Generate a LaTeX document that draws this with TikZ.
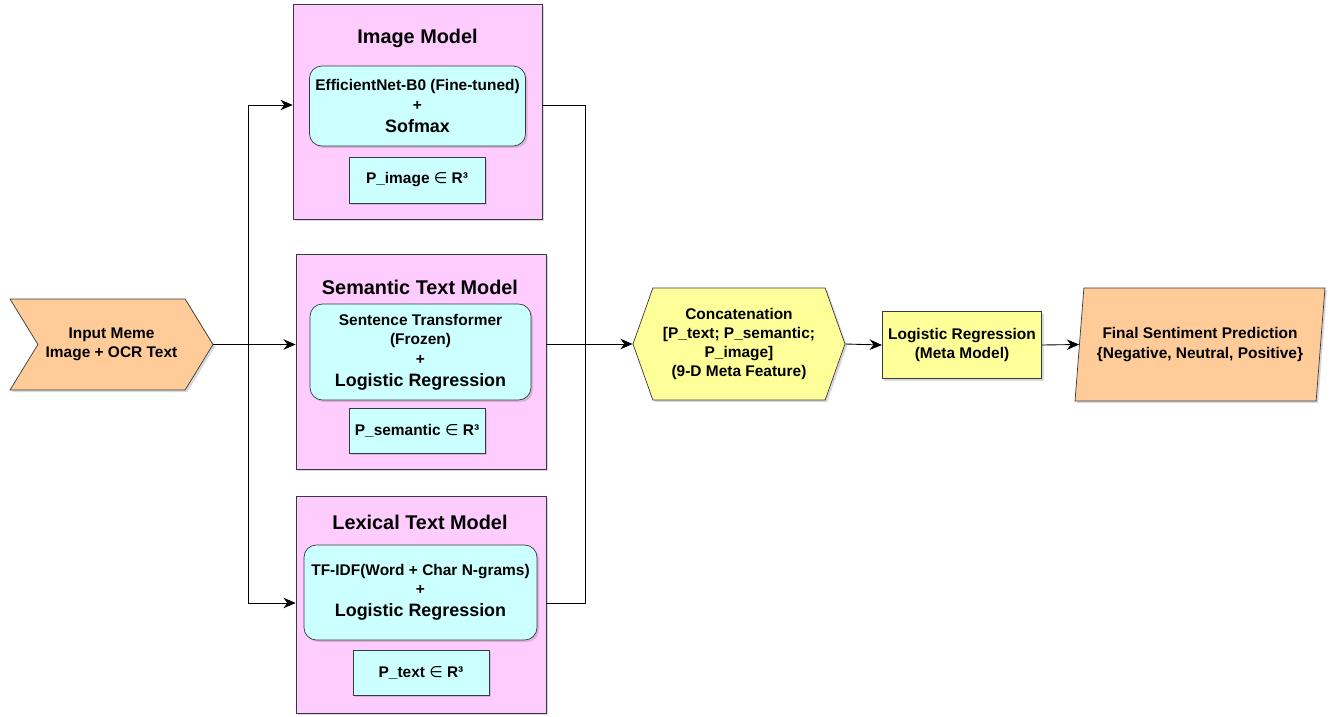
\documentclass[tikz,border=0pt]{standalone}
\usepackage{fontspec}
\setmainfont{Liberation Sans}
\newfontfamily\symfont{DejaVu Sans}
\usetikzlibrary{arrows, arrows.meta, positioning, shapes.geometric, shapes.symbols, shadows}

\definecolor{modelpink}{HTML}{FFCCFF}
\definecolor{netcyan}{HTML}{CCFFFF}
\definecolor{ioorange}{HTML}{FFCC99}
\definecolor{metayellow}{HTML}{FFFF99}
\definecolor{edgegray}{HTML}{36393D}

\newcommand{\smallsz}{\fontsize{8.8}{11}\selectfont}
\newcommand{\bigsz}{\fontsize{10.2}{12.5}\selectfont}
\newcommand{\titlesz}{\fontsize{11.3}{13.5}\selectfont}
\newcommand{\inRthree}{{\symfont\mdseries ∈} R³}

\begin{document}
\begin{tikzpicture}[x=0.02cm, y=-0.02cm]
	\tikzstyle{Shadowed} = [drop shadow={opacity=0.3, shadow xshift=1.2pt, shadow yshift=-1.2pt}]
	\tikzstyle{ModelBox} = [rectangle, draw=edgegray, fill=modelpink, Shadowed]
	\tikzstyle{NetBox} = [rectangle, rounded corners=7pt, draw=edgegray, fill=netcyan, align=center, font=\bfseries\smallsz, Shadowed]
	\tikzstyle{ProbBox} = [rectangle, draw=edgegray, fill=netcyan, font=\bfseries\smallsz, Shadowed]
	\tikzstyle{Title} = [font=\bfseries\titlesz]
	\tikzstyle{Flow} = [draw=edgegray, align=center, font=\bfseries\smallsz, Shadowed]
	\tikzstyle{arrow} = [-{Stealth[length=7pt, width=6pt]}, line width=0.5pt]
	\tikzstyle{line} = [line width=0.5pt]

	\useasboundingbox (0,0) rectangle (1340,717);

	% input and the three base models
	\node (input) [Flow, signal, signal to=east, signal from=west, signal pointer angle=117, fill=ioorange, minimum width=4.06cm, minimum height=1.82cm] at (111.5,344.5) {Input Meme\\Image + OCR Text};

	\node (imgModel) [ModelBox, minimum width=4.98cm, minimum height=4.3cm] at (417.5,111.5) {};
	\node (imgTitle) [Title] at (417.5,38) {Image Model};
	\node (imgNet) [NetBox, minimum width=4.3cm, minimum height=1.6cm] at (417.5,106) {EfficientNet-B0 (Fine-tuned)\\+\\[1.5pt]{\bigsz Sofmax}};
	\node (imgProb) [ProbBox, minimum width=2.72cm, minimum height=0.92cm] at (417,180) {P\_image \inRthree};

	\node (semModel) [ModelBox, minimum width=5cm, minimum height=4.3cm] at (421,361.5) {};
	\node (semTitle) [Title] at (420,287) {Semantic Text Model};
	\node (semNet) [NetBox, minimum width=4.42cm, minimum height=1.92cm] at (420.5,352) {Sentence Transformer\\(Frozen)\\+\\[1.5pt]{\bigsz Logistic Regression}};
	\node (semProb) [ProbBox, minimum width=2.72cm, minimum height=0.9cm] at (417,430.5) {P\_semantic \inRthree};

	\node (lexModel) [ModelBox, minimum width=5cm, minimum height=4.34cm] at (421,604.5) {};
	\node (lexTitle) [Title] at (420,522) {Lexical Text Model};
	\node (lexNet) [NetBox, minimum width=4.66cm, minimum height=1.9cm] at (420.5,592.5) {TF-IDF(Word + Char N-grams)\\+\\[1.5pt]{\bigsz Logistic Regression}};
	\node (lexProb) [ProbBox, minimum width=2.72cm, minimum height=0.9cm] at (421,672.5) {P\_text \inRthree};

	% meta stage
	\node (concat) [Flow, signal, signal to=east and west, signal pointer angle=141, fill=metayellow, minimum width=4.24cm, minimum height=2.24cm] at (739,344) {Concatenation\\{[}P\_text; P\_semantic;\\P\_image{]}\\(9-D Meta Feature)};
	\node (meta) [Flow, rectangle, fill=metayellow, minimum width=3.18cm, minimum height=1.34cm] at (962,345) {Logistic Regression\\(Meta Model)};
	\node (final) [Flow, trapezium, trapezium left angle=79, trapezium right angle=101, trapezium stretches body=true, fill=ioorange, minimum width=5cm, minimum height=2.26cm] at (1200,344.5) {Final Sentiment Prediction\\\{Negative, Neutral, Positive\}};

	% fan out
	\coordinate (splitTop) at (248,105);
	\coordinate (splitBot) at (248,603);
	\draw [arrow] (input.east) -- (input.east -| semModel.west);
	\draw [line] (splitTop) -- (splitBot);
	\draw [arrow] (splitTop) -- (splitTop -| imgModel.west);
	\draw [arrow] (splitBot) -- (splitBot -| lexModel.west);

	% fan in
	\coordinate (joinTop) at (585,105);
	\coordinate (joinBot) at (585,603);
	\draw [line] (joinTop -| imgModel.east) -- (joinTop) -- (joinBot) -- (joinBot -| lexModel.east);
	\draw [arrow] (concat.west -| semModel.east) -- (concat.west);
	\draw [arrow] (concat.east) -- (meta.west);
	\draw [arrow] (meta.east) -- (final.west);
\end{tikzpicture}
\end{document}
